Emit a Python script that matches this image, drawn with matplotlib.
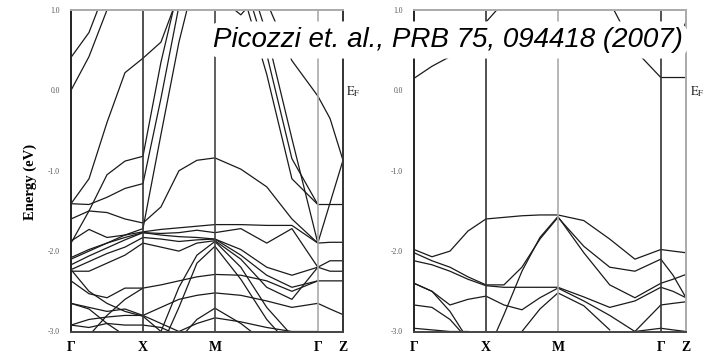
import numpy as np
import matplotlib.pyplot as plt

plt.rcParams['mathtext.fontset'] = 'stix'

N = np.nan

# k path: Gamma - X - M - Gamma - Z  (M-Gamma is sqrt(2) longer)
k_ticks = [0.0, 1.0, 2.0, 3.43, 3.78]
k_labels = ['Γ', 'X', 'M', 'Γ', 'Z']
k_grid = [0, .25, .5, .75, 1, 1.25, 1.5, 1.75, 2, 2.36, 2.72, 3.07, 3.43, 3.6, 3.78]

e_ticks = [-3.0, -2.0, -1.0, 0.0, 1.0]
e_labels = ['-3.0', '-2.0', '-1.0', '0.0', '1.0']

# energies (eV), one row per band, on k_grid
bands_left = [
    [0.41, 0.72, 1.3, N, N, N, N, N, N, N, N, N, N, N, N],
    [0.0, 0.42, 1.0, 1.3, N, N, N, N, N, N, N, N, N, N, N],
    [-1.41, -1.1, -0.4, 0.22, 0.40, 0.6, 1.2, N, N, N, N, N, N, N, N],
    [-1.9, -1.5, -1.05, -0.88, -0.82, 0.35, 1.3, N, N, N, N, N, N, N, N],
    [-1.41, -1.42, -1.33, -1.22, -1.16, -0.1, 1.05, N, N, N, N, N, N, N, N],
    [-2.1, -2.0, -1.9, -1.8, -1.72, -0.55, 0.6, 1.5, N, N, N, N, N, N, N],
    [-1.6, -1.5, -1.52, -1.6, -1.65, -1.45, -1.0, -0.87, -0.84, -0.98, -1.2, -1.6, -1.9, -1.4, -0.87],
    [N, N, N, N, N, N, N, N, N, N, 1.1, 0.37, -0.07, -0.35, -0.87],
    [N, N, N, N, N, N, N, N, N, 1.3, 0.2, -1.1, -1.42, -1.42, -1.42],
    [N, N, N, N, N, N, N, N, N, 1.5, 0.45, -0.85, -1.42, N, N],
    [N, N, N, N, N, N, N, N, N, 1.7, 0.7, -0.6, -1.9, -1.89, -1.89],
    [N, N, N, N, N, N, N, N, 1.2, 0.94, 1.3, N, N, N, N],
    [-1.875, -1.73, -1.83, -1.8, -1.76, -1.73, -1.71, -1.69, -1.67, -1.67, -1.68, -1.68, -1.9, N, N],
    [-2.08, -1.98, -1.9, -1.83, -1.77, -1.78, -1.77, -1.74, -1.77, -1.72, -1.9, -1.72, -2.2, -2.12, -2.12],
    [-2.17, -2.06, -1.96, -1.86, -1.77, -1.8, -1.82, -1.83, -1.85, -1.98, -2.2, -2.3, -2.2, -2.25, -2.25],
    [-2.23, -2.13, -2.03, -1.95, -1.83, -1.85, -1.88, -1.86, -1.85, -2.05, -2.3, -2.45, -2.37, -2.37, -2.37],
    [-2.25, -2.25, -2.15, -2.05, -1.9, -1.95, -2.0, -1.9, -1.87, -2.1, -2.45, -2.6, -2.2, N, N],
    [N, N, N, N, -3.4, -3.0, -2.45, -2.05, -1.88, -2.2, -2.7, -3.05, N, N, N],
    [N, N, N, N, N, -3.2, -2.7, -2.15, -1.94, -2.35, -2.85, -3.2, N, N, N],
    [-2.37, -2.53, -2.58, -2.46, -2.46, -2.42, -2.37, -2.32, -2.29, -2.3, -2.37, -2.5, -2.37, N, N],
    [-2.65, -2.7, -2.75, -2.72, -2.8, -2.7, -2.6, -2.55, -2.52, -2.55, -2.62, -2.7, -2.65, -2.72, -2.79],
    [N, N, N, N, N, N, -3.1, -2.85, -2.71, -2.9, -3.15, N, N, N, N],
    [-2.92, -2.85, -2.82, -2.8, -2.8, -2.9, -3.0, -2.9, -2.83, -2.88, -2.95, -3.0, -3.0, N, N],
    [-2.92, -2.95, -2.9, -2.92, -2.92, -2.95, -3.05, N, N, N, N, N, N, N, N],
    [-2.23, -2.5, -2.65, -2.75, -2.81, -3.0, N, N, N, N, N, N, N, N, N],
    [-2.65, -2.72, -2.9, -3.05, N, N, N, N, N, N, N, N, N, N, N],
    [N, -3.05, -2.8, -2.6, -2.46, N, N, N, N, N, N, N, N, N, N],
]

# energies (eV)
bands_right = [
    [0.15, 0.3, 0.42, 0.6, 0.85, 1.1, N, N, N, N, N, N, N, N, N],
    [N, N, N, N, N, N, N, N, N, N, 1.1, 0.5, 0.16, 0.16, 0.16],
    [N, N, N, N, N, N, N, N, N, N, N, N, N, 0.5, 0.5],
    [N, N, N, N, N, N, N, N, N, N, N, N, N, 0.5, 0.85],
    [-1.98, -2.07, -2.0, -1.75, -1.6, -1.58, -1.56, -1.55, -1.55, -1.62, -1.85, -2.1, -1.98, -2.0, -2.02],
    [-2.02, -2.12, -2.2, -2.32, -2.42, -2.42, -2.2, -1.85, -1.58, -1.94, -2.2, -2.25, -2.1, -2.3, -2.58],
    [-2.12, -2.17, -2.25, -2.35, -2.43, -2.45, -2.45, -2.45, -2.45, -2.57, -2.7, -2.62, -2.45, -2.5, -2.58],
    [N, N, N, N, -3.3, -2.79, -2.25, -1.83, -1.57, -2.02, -2.42, -2.58, -2.4, -2.35, -2.29],
    [N, N, N, N, N, -3.3, -3.0, -2.72, -2.52, -2.68, -2.98, N, N, N, N],
    [-2.4, -2.5, -2.67, -2.6, -2.56, -2.67, -2.73, -2.58, -2.46, -2.62, -2.8, -3.0, -2.67, -2.65, -2.63],
    [-2.67, -2.7, -2.85, -3.1, N, N, N, N, N, N, N, N, N, N, N],
    [-2.4, -2.5, -2.75, -3.1, N, N, N, N, N, N, N, N, N, N, N],
    [-2.96, -2.98, -3.0, -3.0, N, N, N, N, N, N, N, -3.0, -2.96, -2.98, -3.0],
]

fig = plt.figure(figsize=(7.04, 3.59), dpi=100)
W, H = 704, 359


def panel(x0, bands, vline_cols, spine_cols):
    ax = fig.add_axes([x0 / W, 1 - 331.5 / H, 272 / W, 321.5 / H])
    for b in bands:
        ax.plot(k_grid, b, color='#1a1a1a', lw=0.9)
    for k, c in zip(k_ticks[1:4], vline_cols):
        ax.axvline(k, color=c, lw=1.2)
    ax.set_xlim(k_ticks[0], k_ticks[-1])
    ax.set_ylim(-3.0, 1.0)
    for side, c in spine_cols.items():
        ax.spines[side].set_color(c)
        ax.spines[side].set_linewidth(1.4)
    ax.set_xticks(k_ticks)
    ax.set_xticklabels(k_labels, family='Liberation Serif', fontsize=10,
                       fontweight='bold')
    ax.set_yticks(e_ticks)
    ax.set_yticklabels(e_labels, family='Liberation Serif', fontsize=5.5,
                       color='#555555')
    ax.tick_params(axis='x', length=0, pad=7)
    ax.tick_params(axis='y', length=0, pad=8)
    return ax


panel(71, bands_left, ['#333333', '#444444', '#aaaaaa'],
      {'left': '#222222', 'right': '#333333', 'top': '#aaaaaa', 'bottom': '#444444'})
panel(414, bands_right, ['#333333', '#aaaaaa', '#333333'],
      {'left': '#222222', 'right': '#aaaaaa', 'top': '#aaaaaa', 'bottom': '#444444'})

fig.text(30 / W, 1 - 182 / H, 'Energy (eV)', rotation=90, ha='center', va='center',
         family='Liberation Serif', fontweight='bold', fontsize=10.5)
for xp in (346, 690):
    fig.text(xp / W, 1 - 92 / H, r'$\mathrm{E_F}$', ha='left', va='center',
             fontsize=9, color='#222222')

fig.text(448 / W, 1 - 40 / H, 'Picozzi et. al., PRB 75, 094418 (2007)',
         ha='center', va='center', fontsize=20, style='italic',
         family='Liberation Sans',
         bbox=dict(boxstyle='round,pad=0.2,rounding_size=0.6', fc='white', ec='none'))

fig.savefig('out.png', dpi=100)
